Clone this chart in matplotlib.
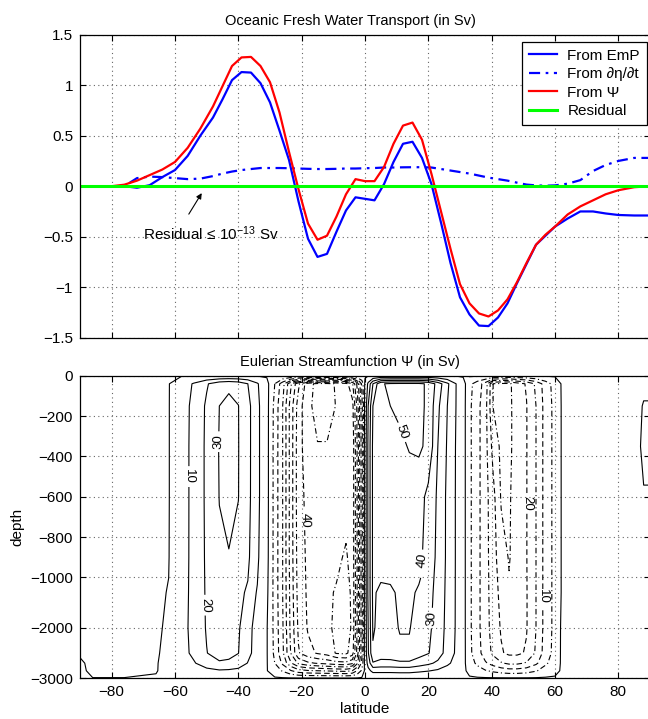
import numpy as np
import matplotlib
matplotlib.use("Agg")
import matplotlib.pyplot as plt

plt.rcParams["font.family"] = ["Liberation Sans", "DejaVu Sans"]
plt.rcParams["mathtext.fontset"] = "custom"
plt.rcParams["mathtext.rm"] = "Liberation Sans"
plt.rcParams["mathtext.default"] = "regular"
plt.rcParams["axes.unicode_minus"] = True

# ---------------- fresh water transport (Sv) ----------------
lat = [-90, -80, -76, -72, -68, -64, -60, -56, -52, -48,
       -45, -42, -39, -36, -33, -30, -27, -24, -21, -18,
       -15, -12, -9, -6, -3, 0, 3, 6, 9, 12,
       15, 18, 21, 24, 27, 30, 33, 36, 39, 42,
       45, 48, 51, 54, 57, 60, 64, 68, 72, 76,
       80, 85, 90]
from_emp = [0, 0, 0, -0.015, 0.01, 0.09, 0.16, 0.30, 0.50, 0.68,
            0.86, 1.05, 1.13, 1.125, 1.02, 0.83, 0.55, 0.26, -0.15, -0.52,
            -0.70, -0.67, -0.45, -0.24, -0.11, -0.125, -0.14, 0.02, 0.24, 0.42,
            0.44, 0.28, 0.02, -0.36, -0.76, -1.10, -1.27, -1.38, -1.385, -1.30,
            -1.16, -0.96, -0.77, -0.58, -0.49, -0.40, -0.32, -0.25, -0.25, -0.27,
            -0.285, -0.29, -0.29]
from_deta = [0, 0, 0, 0.08, 0.095, 0.09, 0.08, 0.07, 0.075, 0.10,
             0.125, 0.145, 0.16, 0.17, 0.18, 0.18, 0.18, 0.178, 0.175, 0.172,
             0.17, 0.17, 0.172, 0.175, 0.175, 0.178, 0.18, 0.185, 0.185, 0.187,
             0.188, 0.188, 0.185, 0.17, 0.155, 0.14, 0.125, 0.105, 0.085, 0.07,
             0.055, 0.035, 0.016, 0.008, 0.005, 0.008, 0.025, 0.06, 0.15, 0.21,
             0.25, 0.28, 0.28]
from_psi = [0, 0, 0.015, 0.055, 0.11, 0.165, 0.24, 0.38, 0.57, 0.79,
            0.99, 1.19, 1.275, 1.28, 1.19, 1.03, 0.73, 0.34, -0.03, -0.37,
            -0.53, -0.49, -0.30, -0.08, 0.07, 0.05, 0.05, 0.19, 0.42, 0.60,
            0.63, 0.46, 0.12, -0.25, -0.62, -0.97, -1.16, -1.26, -1.29, -1.23,
            -1.12, -0.95, -0.76, -0.58, -0.48, -0.40, -0.28, -0.20, -0.14, -0.08,
            -0.04, -0.01, 0]
residual = [0.0] * len(lat)

# ---------------- Eulerian streamfunction (Sv) ----------------
psi_depth = [0, -40, -150, -350, -600, -900, -1300, -2000, -2500, -2700, -2850, -3000]
psi_lat = [-90, -86, -76, -66, -62, -58, -54, -50, -46, -43, -40, -37, -34, -31,
           -28.5, -26, -23.5, -21, -18, -15, -12, -9, -6, -4, -2.5, -1,
           0, 1, 2.5, 5, 8, 11, 14, 17, 20, 23, 26, 29, 31,
           33, 35.5, 38, 40.5, 43, 45.5, 48, 51, 54, 57, 60, 62.5,
           66, 76, 84, 86, 88, 90]
# one profile per latitude, ordered as psi_depth
psi_profiles = [
    [-0.5, -1, -1, -1, -1, -1, -1, -1, -0.5, 0.6, 1, 1],
    [-0.5, -1, -1, -1, -1, -1, -1, -1, -1, -1, -1, 0.1],
    [-0.5, -1, -1, -1, -1, -1, -1, -1, -1, -1, -1, 0.1],
    [-0.5, -1.5, -2, -2, -2, -2, -2, -2.5, -1.2, -0.5, -0.2, 0.3],
    [-0.5, -0.3, -0.3, -0.3, -0.3, -0.2, 0.5, 2.5, 3, 2.5, 1.2, 0.5],
    [-0.5, 4.8, 5.6, 5.7, 5.7, 5.8, 6.2, 6.9, 6.5, 5, 2.4, 0.5],
    [-0.5, 11, 12.6, 12.9, 12.9, 12.9, 12.9, 12.8, 12.2, 9.2, 4.5, 0.5],
    [-0.5, 19, 21.5, 21.8, 21.8, 21.5, 21.2, 20.8, 19.7, 15, 7.3, 0.5],
    [-0.5, 26, 30, 30.5, 30.2, 28.8, 27.5, 25.8, 24.5, 18.6, 9, 0.5],
    [-0.5, 28, 32.5, 32.8, 32.5, 29.6, 27, 24.7, 23.5, 17.8, 8.6, 0.5],
    [-0.5, 26, 30.2, 30.3, 30.2, 27.5, 24.5, 21.2, 20.2, 15.3, 7.5, 0.5],
    [-0.5, 20, 23, 23, 22.9, 21.8, 17.5, 13.3, 12.7, 9.6, 4.7, 0.5],
    [-0.5, 11, 12.5, 12.5, 12.5, 11.5, 9, 6, 5.7, 4.3, 2.1, 0.5],
    [-0.5, 1.5, 1.7, 1.7, 1.7, 1.5, 1, 0.3, 0.3, 0.3, 0.2, 0.5],
    [0.5, -5, -6.5, -6.8, -6.8, -6.8, -6.8, -6.5, -6.2, -5, -2.5, 0.5],
    [0.5, -13, -15, -15, -15, -15, -15, -14.5, -14, -11, -5.5, 0.5],
    [0.5, -24, -27, -27, -27, -27, -26.5, -26, -25, -19, -9.5, 0.5],
    [0.5, -34, -37.5, -38, -38, -37.5, -37, -36, -34.5, -26, -13, 0.5],
    [0.5, -43, -44, -43, -41.5, -41, -40.8, -40.5, -38.5, -29, -14.5, 0.5],
    [0.5, -46.5, -46.5, -44.8, -42.5, -42.5, -42.5, -42.5, -40.5, -30.5, -15, 0.5],
    [0.5, -46.5, -46.5, -44.8, -43, -43.5, -44, -44, -42, -31.5, -15.5, 0.5],
    [0.5, -44.5, -44.8, -44.5, -43.5, -44.5, -45.5, -46, -45.5, -33, -16, 0.5],
    [0.5, -42, -44, -44, -44, -45.3, -46, -46.5, -46, -33.5, -16.5, 0.5],
    [0.5, -36, -42, -44, -44, -44, -44.5, -44.5, -42.5, -31, -15, 0.5],
    [0.5, -24, -29, -30, -30, -30, -30, -30, -28.5, -21, -10, 0.5],
    [0.5, -9, -12, -12, -12, -12, -12, -12, -11.5, -8.5, -4, 0.5],
    [-0.5, 1, 2, 3, 3, 3, 3, 3, 3, 2, 1, 0.5],
    [-0.5, 12, 20, 22, 22, 22, 22, 20, 19, 14, 7, 0.5],
    [-0.5, 30, 40, 42, 42, 42, 42, 41, 39, 29, 13, 0.5],
    [-0.5, 49, 47, 45.5, 44.5, 43, 37, 37, 35, 27, 13, 0.5],
    [-0.5, 51.5, 50, 47, 45.5, 43, 38, 37.5, 35.5, 27, 13, 0.5],
    [-0.5, 52, 51.5, 48.5, 46, 44, 42, 40.5, 38.5, 28, 13.5, 0.5],
    [-0.5, 52, 52, 50.5, 46.5, 45, 43, 40.5, 38.5, 28, 13.5, 0.5],
    [-0.5, 52, 52, 51.5, 44.5, 43, 38, 36, 34, 25, 12, 0.5],
    [-0.5, 48.5, 48.5, 48, 37, 35, 33, 32, 30.5, 22, 10.5, 0.5],
    [-0.5, 36, 32, 30, 28.5, 28, 27, 26, 25, 18, 8.5, 0.5],
    [-0.5, 22, 20, 19, 18, 18, 17.5, 17, 16, 12, 5.5, 0.5],
    [-0.5, 9, 9, 8.5, 8.5, 8.5, 8.5, 8.5, 8, 6, 3, 0.5],
    [-0.5, 2, 2, 2, 2, 2, 2, 2, 2, 1.5, 1, 0.5],
    [0.5, -3.5, -4, -4, -4, -4, -4, -4, -3.8, -2.8, -1.2, 0.5],
    [0.5, -7.5, -8.5, -8.5, -8.5, -8.5, -8.5, -8.5, -8, -6, -3, 0.5],
    [0.5, -12, -13, -13, -13, -13, -13, -13, -12.4, -9.4, -4.6, 0.5],
    [0.5, -25.2, -25.2, -22, -18.5, -18, -17.5, -17, -16, -12, -6, 0.5],
    [0.5, -26, -26, -26, -25.5, -23, -21.5, -20.5, -19.5, -14.5, -7.2, 0.5],
    [0.5, -26, -26, -26, -25.5, -25.3, -23.5, -22, -21, -16, -8, 0.5],
    [0.5, -22.5, -23, -23, -23, -23, -22.5, -22, -21, -16, -8, 0.5],
    [0.5, -19.5, -20.2, -20.2, -20.2, -20.2, -20.3, -20.3, -19.5, -14.5, -7.2, 0.5],
    [0.5, -14, -15, -15, -15, -15, -15, -15, -14.3, -11, -5.4, 0.5],
    [0.5, -7.5, -8, -8, -8, -8, -8, -8, -7.6, -5.8, -2.9, 0.5],
    [0.5, -3, -3.5, -3.5, -3.5, -3.5, -3.5, -3.5, -3.3, -2.5, -1.2, 0.5],
    [0.5, 1, 1, 1, 1, 1, 1, 1.5, 1.5, 1.2, 0.8, 0.5],
    [0.5, 1, 1, 1, 1, 1, 1, 1, 1, 1, 1, 0.5],
    [0.5, 1, 1, 1, 1, 1, 1, 1, 1, 1, 1, 0.5],
    [0.5, 1, 1, 1, 1, 1, 1, 1, 1, 1, 1, 0.5],
    [0.5, 1, 1, 1, 1, 1, 1, 1, 1, 1, 1, 0.5],
    [0.5, 1, -0.3, -1, 0.3, 1, 1, 1, 1, 1, 1, 0.5],
    [0.5, 1, -0.3, -1, 0.3, 1, 1, 1, 1, 1, 1, 0.5],
]
pos_levels = [0, 10, 20, 30, 40, 50]
neg_levels_10 = [-40, -30, -20, -10]
neg_levels_5 = [-45, -35, -25, -15, -5]

x_ticks = [-80, -60, -40, -20, 0, 20, 40, 60, 80]
y_ticks_top = [-1.5, -1, -0.5, 0, 0.5, 1, 1.5]
y_ticks_depth = [-3000, -2000, -1000, -800, -600, -400, -200, 0]


def depth_fwd(z):
    z = np.asarray(z, dtype=float)
    return np.where(z >= -1000, z, -1000 + (z + 1000) / 4.0)


def depth_inv(t):
    t = np.asarray(t, dtype=float)
    return np.where(t >= -1000, t, -1000 + (t + 1000) * 4.0)


def fmt_num(v):
    s = f"{v:g}"
    return s.replace("-", "\u2212")


def style_axes(ax):
    ax.tick_params(direction="in", top=True, right=True, length=4, width=0.8,
                   labelsize=11, pad=5)
    for sp in ax.spines.values():
        sp.set_linewidth(0.9)
    ax.grid(True, linestyle=(0, (1, 3)), color="0.4", linewidth=0.8)
    ax.set_axisbelow(True)


fig = plt.figure(figsize=(6.48, 7.19), dpi=100)
W, H = 648.0, 719.0
ax1 = fig.add_axes([80 / W, (H - 337.7) / H, 570 / W, 303 / H])
ax2 = fig.add_axes([80 / W, (H - 678.3) / H, 570 / W, 302.6 / H])
title_x = (350 - 80) / 570

# ---- top panel ----
ax1.plot(lat, from_emp, color=(0, 0, 1), lw=1.6, label="From EmP")
ax1.plot(lat, from_deta, color=(0, 0, 1), lw=1.6, linestyle=(0, (5, 2.5, 1.2, 2.5)),
         label="From \u2202\u03b7/\u2202t")
ax1.plot(lat, from_psi, color=(1, 0, 0), lw=1.6, label="From \u03a8")
ax1.plot(lat, residual, color=(0, 1, 0), lw=2.2, label="Residual")
ax1.set_xlim(-90, 90)
ax1.set_ylim(-1.5, 1.5)
ax1.set_xticks(x_ticks)
ax1.set_xticklabels([])
ax1.set_yticks(y_ticks_top)
ax1.set_yticklabels([fmt_num(v) for v in y_ticks_top])
style_axes(ax1)
ax1.set_title("Oceanic Fresh Water Transport (in Sv)", fontsize=10.5, pad=7, x=title_x)
leg = ax1.legend(loc="upper right", bbox_to_anchor=(0.9942, 0.977), fontsize=11,
                 frameon=True, fancybox=False, framealpha=1, edgecolor="k",
                 handlelength=1.8, handletextpad=0.7, labelspacing=0.3,
                 borderpad=0.45, borderaxespad=0.0)
leg.get_frame().set_linewidth(0.9)
ax1.annotate("", xy=(-51.1, -0.045), xytext=(-56.1, -0.30),
             arrowprops=dict(arrowstyle="-|>", color="k", lw=0.8, mutation_scale=8))
ax1.text(-70.2, -0.47, "Residual \u2264 10$^{\u221213}$ Sv", fontsize=11,
         ha="left", va="center")

# ---- bottom panel ----
ax2.set_yscale("function", functions=(depth_fwd, depth_inv))
psi = np.array(psi_profiles).T
cs_pos = ax2.contour(psi_lat, psi_depth, psi, levels=pos_levels, colors="k",
                     linewidths=0.8, linestyles="solid")
cs_n10 = ax2.contour(psi_lat, psi_depth, psi, levels=neg_levels_10, colors="k",
                     linewidths=0.8)
cs_n10.set_linestyle((0, (5, 3)))
cs_n5 = ax2.contour(psi_lat, psi_depth, psi, levels=neg_levels_5, colors="k",
                    linewidths=0.8)
cs_n5.set_linestyle((0, (5, 2.5, 1, 2.5)))

lab_fmt = lambda v: f"{abs(v):.0f}"
ax2.clabel(cs_pos, levels=pos_levels, fmt=lab_fmt, fontsize=9.5, inline=True,
           inline_spacing=3,
           manual=[(-55.5, -500), (-46.5, -327), (-50.5, -1550),
                   (13.7, -269), (18.4, -914), (22.1, -1810)])
ax2.clabel(cs_n10, levels=neg_levels_10, fmt=lab_fmt, fontsize=9.5, inline=True,
           inline_spacing=3,
           manual=[(-20.5, -715), (51.6, -633), (55.8, -1383)])

ax2.set_xlim(-90, 90)
ax2.set_ylim(-3000, 0)
ax2.set_xticks(x_ticks)
ax2.set_xticklabels([fmt_num(v) for v in x_ticks])
ax2.set_yticks(y_ticks_depth)
ax2.set_yticklabels([fmt_num(v) for v in y_ticks_depth])
ax2.minorticks_off()
style_axes(ax2)
ax2.set_title("Eulerian Streamfunction \u03a8 (in Sv)", fontsize=10.5, pad=7, x=title_x)
ax2.set_xlabel("latitude", fontsize=11, labelpad=2)
ax2.set_ylabel("depth", fontsize=11, labelpad=4)

fig.savefig("out.png", dpi=100)
